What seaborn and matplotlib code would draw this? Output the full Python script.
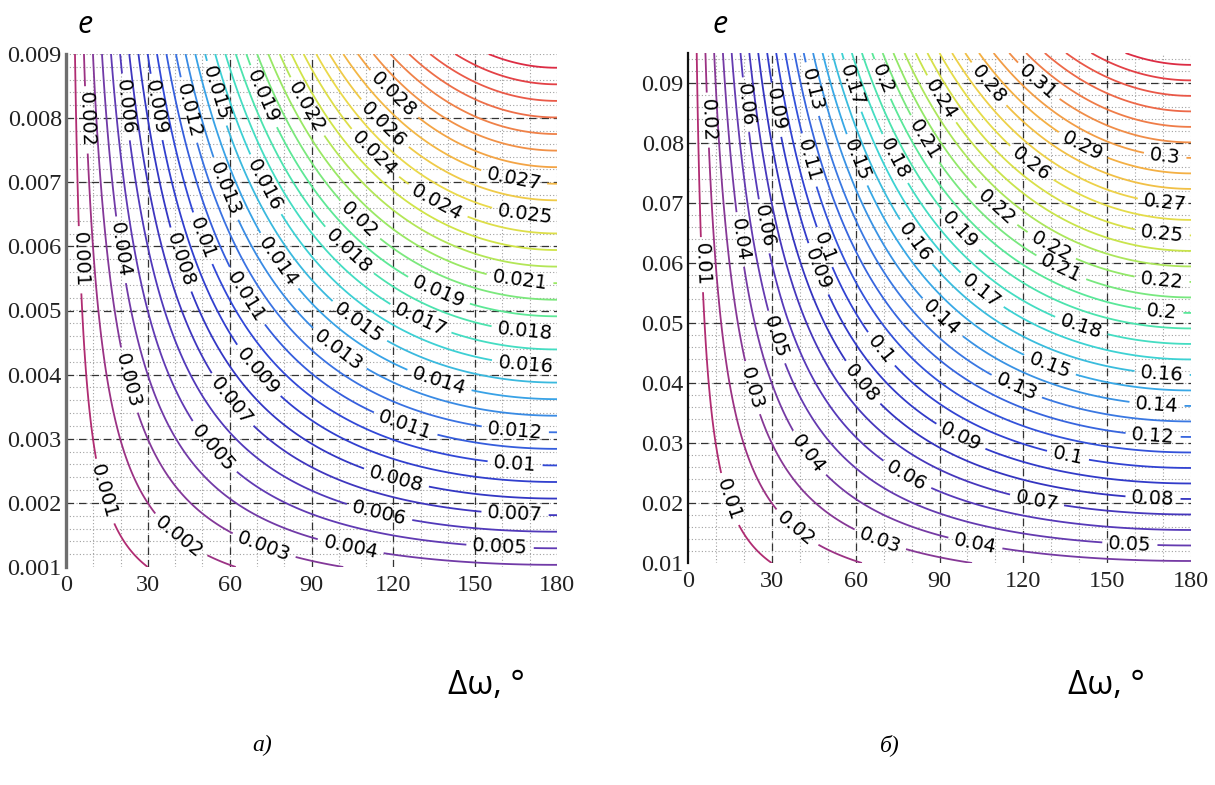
import numpy as np
import matplotlib
matplotlib.use("Agg")
import matplotlib.pyplot as plt
import seaborn as sns

# ---- data -----------------------------------------------------------------
dw_ticks = [0, 30, 60, 90, 120, 150, 180]

e_ticks_a = [0.001, 0.002, 0.003, 0.004, 0.005, 0.006, 0.007, 0.008, 0.009]
e_ticks_b = [0.01, 0.02, 0.03, 0.04, 0.05, 0.06, 0.07, 0.08, 0.09]

e_range_a = [0.001, 0.009]
e_range_b = [0.01, 0.095]

# contour levels of the deviation
levels_a = [round(0.001 * k, 3) for k in range(1, 35)]
levels_b = [round(0.01 * k, 2) for k in range(1, 37)]

# deviation scale factor
k_dev = 3.87

# colour stops, low level -> high level
stops = ["#b02c72", "#7d3a9e", "#5a3ab8", "#3434c0", "#3045d6", "#3a72e2",
         "#38a8e6", "#3ed8d0", "#52e8a0", "#92e868", "#d0e448", "#ecd84a",
         "#f4b044", "#f08848", "#ec6048", "#dc2c44"]

# where the inline level labels sit (Δω in degrees, e)
label_pts_a = [(5.9, 0.00797), (20.9, 0.00817), (32.6, 0.00817), (44.4, 0.00812),
               (55.4, 0.00839), (71.8, 0.00833), (87.6, 0.00816), (119.9, 0.00836),
               (116.2, 0.00789), (112.5, 0.00742), (163.9, 0.00700), (168.3, 0.00649),
               (57.2, 0.00688), (72.9, 0.00696), (105.9, 0.00633), (137.1, 0.00677),
               (4.4, 0.00579), (19.1, 0.00594), (48.4, 0.00610), (41.8, 0.00579),
               (102.3, 0.00587), (77.3, 0.00575), (166.4, 0.00548), (137.1, 0.00535),
               (129.8, 0.00485), (64.9, 0.00519), (105.9, 0.00473), (168.3, 0.00470),
               (98.6, 0.00431), (68.6, 0.00399), (168.3, 0.00410), (137.1, 0.00394),
               (22.7, 0.00391), (60.1, 0.00358), (124.3, 0.00321), (164.6, 0.00309),
               (51.0, 0.00275), (164.6, 0.00259), (120.6, 0.00231), (13.2, 0.00217),
               (114.4, 0.00176), (164.6, 0.00181), (43.6, 0.00158), (72.9, 0.00137),
               (104.1, 0.00127), (159.1, 0.00130)]

label_pts_b = [(6.1, 0.0838), (19.3, 0.0863), (31.1, 0.0855), (42.9, 0.0888),
               (59.7, 0.0897), (68.7, 0.0905), (90.2, 0.0872), (107.3, 0.0897),
               (125.2, 0.0902), (43.6, 0.0772), (60.5, 0.0772), (73.3, 0.0772),
               (84.1, 0.0805), (141.0, 0.0793), (170.7, 0.0777), (122.4, 0.0763),
               (111.6, 0.0700), (170.7, 0.0700), (29.3, 0.0663), (16.8, 0.0638),
               (169.6, 0.0647), (3.6, 0.0597), (50.8, 0.0630), (80.1, 0.0630),
               (97.3, 0.0655), (130.6, 0.0633), (133.1, 0.0588), (45.4, 0.0588),
               (169.6, 0.0572), (103.8, 0.0547), (169.6, 0.0517), (90.2, 0.0505),
               (140.2, 0.0488), (28.6, 0.0472), (68.7, 0.0455), (129.5, 0.0430),
               (169.6, 0.0413), (22.9, 0.0392), (61.5, 0.0397), (117.0, 0.0388),
               (167.8, 0.0363), (166.4, 0.0310), (97.3, 0.0308), (136.0, 0.0280),
               (40.1, 0.0272), (78.4, 0.0247), (166.4, 0.0208), (124.9, 0.0205),
               (14.0, 0.0205), (38.3, 0.0155), (68.7, 0.0138), (102.7, 0.0130),
               (158.1, 0.0130)]


def deviation(dw_deg, e):
    """Deviation between two orbits with eccentricity e whose perigee
    arguments differ by dw_deg degrees."""
    return k_dev * e * np.sin(np.radians(dw_deg) / 2.0)


# ---- style ------------------------------------------------------------------
sns.set_theme(style="white")
plt.rcParams["font.family"] = ["DejaVu Sans"]

fig = plt.figure(figsize=(12.15, 7.85), dpi=100)
ax_a = fig.add_axes([66 / 1215, 1 - 567 / 785, 491 / 1215, 513 / 785])
ax_b = fig.add_axes([688 / 1215, 1 - 563 / 785, 503 / 1215, 510 / 785])


def fmt_a(v):
    return f"{v:.3f}".rstrip("0").rstrip(".")


def fmt_b(v):
    return f"{v:.2f}".rstrip("0").rstrip(".")


def draw_panel(ax, e_range, e_ticks, levels, label_pts, fmt, minor_step, spine_col, spine_w):
    dw = np.linspace(0, 180, 721)
    ee = np.linspace(e_range[0], e_range[1], 601)
    DW, EE = np.meshgrid(dw, ee)
    Z = deviation(DW, EE)

    ax.set_xlim(0, 180)
    ax.set_ylim(e_range[0], e_range[1])

    # minor dotted grid
    for xv in np.arange(10, 181, 10):
        ax.axvline(xv, color="#a0a0a0", lw=0.8, ls=(0, (1, 2)), zorder=0)
    for yv in np.arange(e_range[0] + minor_step, e_range[1] + 1e-12, minor_step):
        ax.axhline(yv, color="#a0a0a0", lw=0.8, ls=(0, (1, 2)), zorder=0)
    # major dashed grid
    for xv in dw_ticks[1:-1]:
        ax.axvline(xv, color="#333333", lw=0.9, ls=(0, (6, 4)), zorder=1)
    for yv in e_ticks[1:]:
        if yv < e_range[1] - 1e-12:
            ax.axhline(yv, color="#333333", lw=0.9, ls=(0, (6, 4)), zorder=1)

    colors = sns.blend_palette(stops, n_colors=len(levels))
    cs = ax.contour(DW, EE, Z, levels=levels, colors=colors, linewidths=1.3, zorder=2)
    ax.clabel(cs, manual=label_pts, inline=True, inline_spacing=6, fmt=fmt,
              fontsize=14, colors="black")

    ax.set_xticks(dw_ticks)
    ax.set_yticks(e_ticks)
    ax.set_xticklabels([str(t) for t in dw_ticks])
    ax.set_yticklabels([fmt(t) for t in e_ticks])
    ax.tick_params(axis="both", length=0, labelsize=17.5, colors="#222222")
    ax.tick_params(axis="y", pad=3)
    ax.tick_params(axis="x", pad=6)
    for lab in ax.get_xticklabels() + ax.get_yticklabels():
        lab.set_fontfamily("Liberation Serif")
    for side in ("top", "right", "bottom"):
        ax.spines[side].set_visible(False)
    ax.spines["left"].set_color(spine_col)
    ax.spines["left"].set_linewidth(spine_w)
    ax.set_facecolor("white")


draw_panel(ax_a, e_range_a, e_ticks_a, levels_a, label_pts_a, fmt_a, 0.0002, "#6e6e6e", 2.4)
draw_panel(ax_b, e_range_b, e_ticks_b, levels_b, label_pts_b, fmt_b, 0.002, "#111111", 1.6)

# axis titles and panel captions
for xe in (85 / 1215, 720 / 1215):
    fig.text(xe, 1 - 25 / 785, "e", fontsize=22, style="italic", family="Open Sans",
             ha="center", va="center", color="black")
for xd in (486 / 1215, 1106 / 1215):
    fig.text(xd, 1 - 685 / 785, "Δω, °", fontsize=24, family="Open Sans",
             ha="center", va="center", color="black")
fig.text(262 / 1215, 1 - 745 / 785, "а)", fontsize=17, style="italic",
         family="Liberation Serif", ha="center", va="center", color="black")
fig.text(890 / 1215, 1 - 745 / 785, "б)", fontsize=17, style="italic",
         family="Liberation Serif", ha="center", va="center", color="black")

fig.savefig("out.png", dpi=100, facecolor="white")
